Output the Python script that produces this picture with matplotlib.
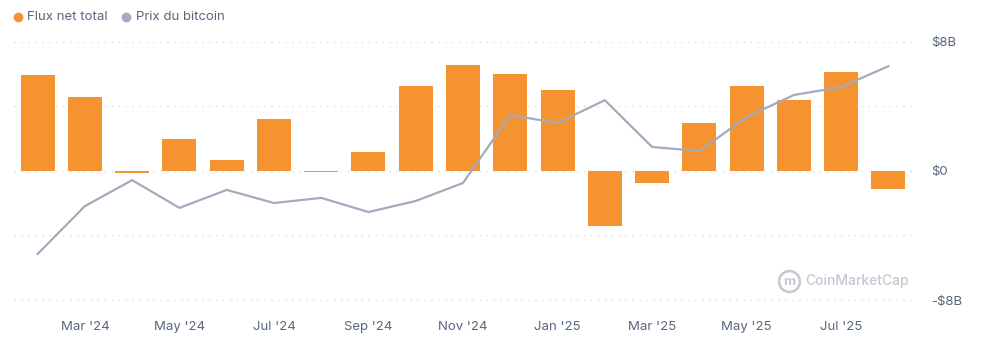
import matplotlib.pyplot as plt
from matplotlib.lines import Line2D

plt.rcParams["font.family"] = ["Inter", "DejaVu Sans"]

# Monthly data, Feb '24 -> Aug '25
months = ["Feb '24", "Mar '24", "Apr '24", "May '24", "Jun '24", "Jul '24", "Aug '24",
          "Sep '24", "Oct '24", "Nov '24", "Dec '24", "Jan '25", "Feb '25", "Mar '25",
          "Apr '25", "May '25", "Jun '25", "Jul '25", "Aug '25"]
net_flow = [5.97, 4.6, -0.15, 2.0, 0.68, 3.2, -0.05, 1.17, 5.3, 6.6, 6.0, 5.05,
            -3.4, -0.75, 2.95, 5.3, 4.4, 6.15, -1.1]  # $B
btc_price = [43.0, 61.6, 71.7, 60.9, 67.9, 62.8, 64.8, 59.3, 63.6, 70.6, 97.0, 93.9,
             102.8, 84.6, 83.0, 96.2, 104.8, 107.9, 116.0]  # $k
y_ticks = [-8, 0, 8]
y_labels = ["-$8B", "$0", "$8B"]

bar_color = "#F4932F"
line_color = "#A3ABBD"
text_color = "#58667E"

W, H = 986, 351
fig = plt.figure(figsize=(W / 100, H / 100), dpi=100)
ax = fig.add_axes([14 / W, 1 - 300 / H, (912 - 14) / W, (300 - 42) / H])
ax2 = ax.twinx()

x = list(range(len(months)))
ax.bar(x, net_flow, width=0.72, color=bar_color, zorder=2)
ax.set_xlim(-0.5, len(months) - 0.5)
ax.set_ylim(-8, 8)

for g in [-8, -4, 0, 4, 8]:
    ax.axhline(g, color="#D8DCE2", linestyle=(0, (1, 4)), linewidth=1.0, zorder=0,
               clip_on=False)

ax.yaxis.tick_right()
ax.set_yticks(y_ticks)
ax.set_yticklabels(y_labels)
ax.set_xticks(x[1::2])
ax.set_xticklabels(months[1::2])
ax.tick_params(axis="both", length=0, colors=text_color, labelsize=9.5)
ax.tick_params(axis="y", pad=14)
ax.tick_params(axis="x", pad=15)
for lbl in ax.get_yticklabels():
    lbl.set_horizontalalignment("left")
for s in ax.spines.values():
    s.set_visible(False)

ax2.plot(x, btc_price, color=line_color, linewidth=1.6, zorder=3)
ax2.set_ylim(25.1, 125.4)
ax2.set_yticks([])
for s in ax2.spines.values():
    s.set_visible(False)

# legend
fig.add_artist(Line2D([18 / W], [1 - 17 / H], transform=fig.transFigure, marker="o",
                      markersize=6, color=bar_color, linestyle=""))
fig.text(27 / W, 1 - 17 / H, "Flux net total", color=text_color, fontsize=9.5, va="center")
fig.add_artist(Line2D([126 / W], [1 - 17 / H], transform=fig.transFigure, marker="o",
                      markersize=6, color=line_color, linestyle=""))
fig.text(136 / W, 1 - 17 / H, "Prix du bitcoin", color=text_color, fontsize=9.5, va="center")

# watermark
wm = "#C3C8D2"
fig.add_artist(Line2D([789 / W], [1 - 281 / H], transform=fig.transFigure, marker="o",
                      markersize=15, markerfacecolor="none", markeredgecolor=wm,
                      markeredgewidth=1.8, linestyle=""))
fig.text(789 / W, 1 - 282 / H, "m", color=wm, fontsize=9.5, ha="center", va="center",
         fontweight="bold")
fig.text(805 / W, 1 - 281 / H, "CoinMarketCap", color=wm, fontsize=10,
         va="center", fontweight="medium")

fig.savefig("out.png", dpi=100)
